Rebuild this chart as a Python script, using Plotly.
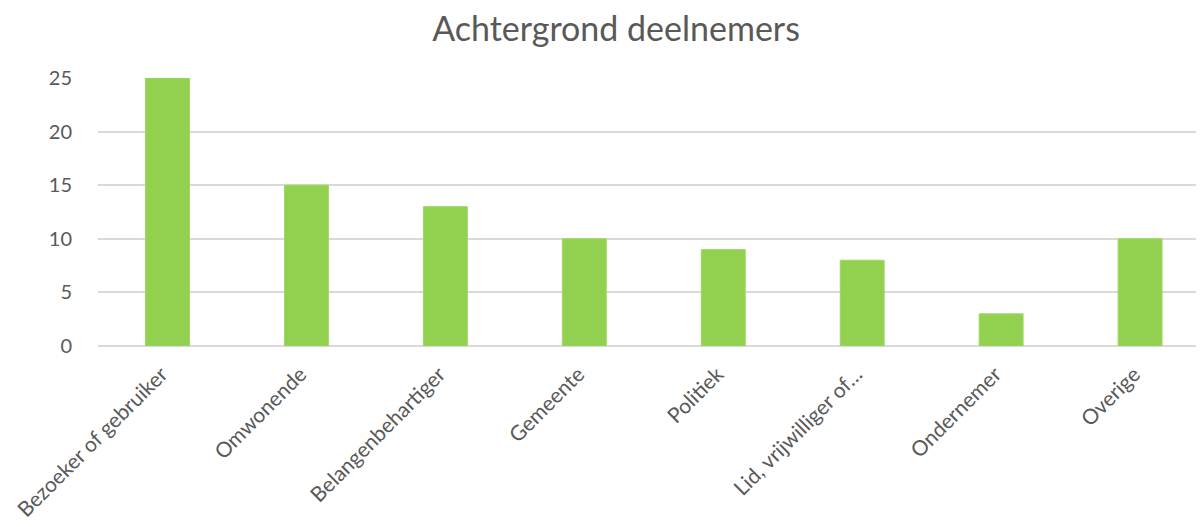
import plotly.graph_objects as go

categories = ["Bezoeker of gebruiker", "Omwonende", "Belangenbehartiger", "Gemeente",
              "Politiek", "Lid, vrijwilliger of…", "Ondernemer", "Overige"]
values = [25, 15, 13, 10, 9, 8, 3, 10]
y_ticks = [0, 5, 10, 15, 20, 25]

FONT = "Lato, Open Sans, sans-serif"
GREY = "#595959"

fig = go.Figure(go.Bar(
    x=categories, y=values,
    marker=dict(color="#92D050", line=dict(color="#9ED85F", width=1)),
    width=0.316,
))

# page body adds an 8px margin, so the figure is offset by 8px
fig.update_layout(
    width=1204, height=527,
    paper_bgcolor="white", plot_bgcolor="white",
    margin=dict(l=90, r=8, t=70, b=189),
    font=dict(family=FONT, color=GREY, size=20),
    title=dict(text="Achtergrond deelnemers", x=0.505, xref="container", xanchor="center",
               y=0.96, yref="container", yanchor="middle",
               font=dict(family=FONT, size=34, color=GREY)),
    showlegend=False,
)
fig.update_xaxes(range=[-0.5, 7.46], tickangle=-45, showgrid=False, zeroline=False,
                 showline=False, ticks="", automargin=False,
                 ticklabelstandoff=11, ticklabelshift=-6,
                 tickfont=dict(size=21, color=GREY))
fig.update_yaxes(range=[0, 25], tickvals=y_ticks, showgrid=True, gridcolor="#D9D9D9", gridwidth=1.5,
                 zeroline=True, zerolinecolor="#D9D9D9", zerolinewidth=1.5, showline=False,
                 ticks="", automargin=False, ticklabelstandoff=25, tickfont=dict(size=20, color=GREY))

fig.write_html("out.html")
